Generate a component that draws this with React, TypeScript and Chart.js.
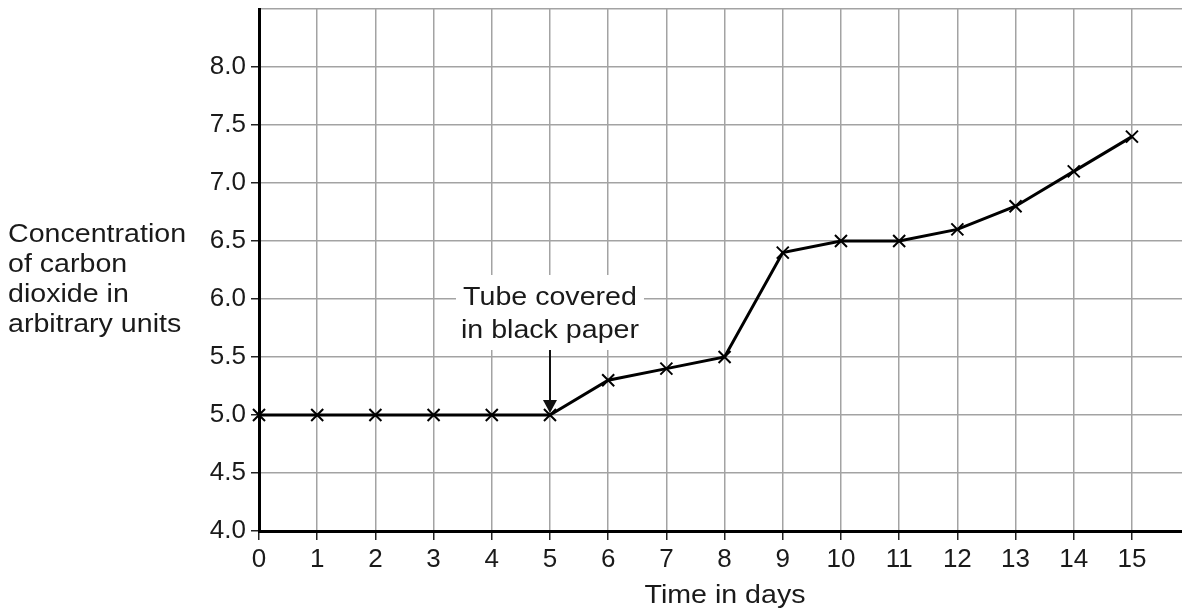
import React, { useEffect, useRef } from "react";
import { Chart, registerables } from "chart.js";

Chart.register(...registerables);

const days = [0, 1, 2, 3, 4, 5, 6, 7, 8, 9, 10, 11, 12, 13, 14, 15];
const co2 = [5.0, 5.0, 5.0, 5.0, 5.0, 5.0, 5.3, 5.4, 5.5, 6.4, 6.5, 6.5, 6.6, 6.8, 7.1, 7.4];
const yTickValues = [4.0, 4.5, 5.0, 5.5, 6.0, 6.5, 7.0, 7.5, 8.0, 8.5];
const yTitleLines = ["Concentration", "of carbon", "dioxide in", "arbitrary units"];
const xTitle = "Time in days";
const noteLines = ["Tube covered", "in black paper"];
const noteDay = 5;
const noteValue = 5.0;

const FONT = "Liberation Sans, Arial, sans-serif";
const STRETCH = 1.1;

function stretchedText(ctx: CanvasRenderingContext2D, text: string, x: number, y: number, align: "left" | "center") {
  ctx.save();
  ctx.translate(x, y);
  ctx.scale(STRETCH, 1);
  ctx.textAlign = align;
  ctx.fillText(text, 0, 0);
  ctx.restore();
}

const textPlugin = {
  id: "textPlugin",
  afterDatasetsDraw(chart: any) {
    const ctx = chart.ctx as CanvasRenderingContext2D;
    const xs = chart.scales.x;
    const ys = chart.scales.y;
    ctx.save();
    ctx.fillStyle = "#1a1a1a";
    ctx.textBaseline = "alphabetic";
    ctx.font = `26px ${FONT}`;
    yTitleLines.forEach((t, i) => stretchedText(ctx, t, 8, 242 + i * 30, "left"));
    stretchedText(ctx, xTitle, 725, 603, "center");
    const ax = xs.getPixelForValue(noteDay);
    const ay = ys.getPixelForValue(noteValue);
    ctx.fillStyle = "#ffffff";
    ctx.fillRect(ax - 94, 275, 188, 75);
    ctx.fillStyle = "#1a1a1a";
    stretchedText(ctx, noteLines[0], ax, 305, "center");
    stretchedText(ctx, noteLines[1], ax, 338, "center");
    ctx.strokeStyle = "#111";
    ctx.lineWidth = 2;
    ctx.beginPath();
    ctx.moveTo(ax, 350);
    ctx.lineTo(ax, ay - 14);
    ctx.stroke();
    ctx.beginPath();
    ctx.moveTo(ax - 7, ay - 15);
    ctx.lineTo(ax + 7, ay - 15);
    ctx.lineTo(ax, ay - 2);
    ctx.closePath();
    ctx.fillStyle = "#111";
    ctx.fill();
    ctx.restore();
  },
};

export default function App() {
  const ref = useRef<HTMLCanvasElement | null>(null);
  useEffect(() => {
    if (!ref.current) return;
    const chart = new Chart(ref.current, {
      type: "line",
      data: {
        datasets: [
          {
            data: days.map((d, i) => ({ x: d, y: co2[i] })),
            borderColor: "#000",
            borderWidth: 3,
            pointStyle: "crossRot",
            pointRadius: 8.5,
            pointBorderWidth: 2,
            pointBorderColor: "#000",
            pointBackgroundColor: "#000",
            tension: 0,
            clip: false as any,
          },
        ],
      },
      options: {
        responsive: false,
        maintainAspectRatio: false,
        animation: false,
        layout: { autoPadding: false, padding: { top: 9, left: 0, right: 0, bottom: 0 } },
        plugins: { legend: { display: false }, tooltip: { enabled: false } },
        scales: {
          x: {
            type: "linear",
            min: 0,
            max: 15.86,
            afterBuildTicks: (scale: any) => {
              scale.ticks = days.map((v) => ({ value: v }));
            },
            afterFit: (scale: any) => {
              scale.height = 84;
              scale.paddingLeft = 0;
              scale.paddingRight = 0;
            },
            ticks: {
              color: "#1a1a1a",
              font: { size: 26, family: FONT },
              padding: 4,
              maxRotation: 0,
              autoSkip: false,
              callback: (v: any) => String(v),
            },
            grid: {
              color: "#a3a3a3",
              lineWidth: 1.5,
              tickColor: "#222",
              tickLength: 9,
              tickWidth: 1.5,
            },
            border: { color: "#000", width: 3 },
          },
          y: {
            type: "linear",
            min: 4,
            max: 8.5,
            afterBuildTicks: (scale: any) => {
              scale.ticks = yTickValues.map((v) => ({ value: v }));
            },
            afterFit: (scale: any) => {
              scale.width = 259;
              scale.paddingTop = 0;
              scale.paddingBottom = 0;
            },
            ticks: {
              color: "#1a1a1a",
              font: { size: 26, family: FONT },
              padding: 5,
              autoSkip: false,
              callback: (v: any) => (Math.abs(v - 8.5) < 1e-6 ? "" : Number(v).toFixed(1)),
            },
            grid: {
              color: "#a3a3a3",
              lineWidth: 1.5,
              tickColor: (c: any) => (c.tick && Math.abs(c.tick.value - 8.5) < 1e-6 ? "rgba(0,0,0,0)" : "#222"),
              tickLength: 8,
              tickWidth: 1.5,
            },
            border: { color: "#000", width: 3 },
          },
        },
      },
      plugins: [textPlugin],
    });
    return () => chart.destroy();
  }, []);
  return (
    <canvas
      ref={ref}
      width={1182}
      height={615}
      style={{ position: "fixed", left: 0, top: 0, width: 1182, height: 615, background: "#fff" }}
    />
  );
}
